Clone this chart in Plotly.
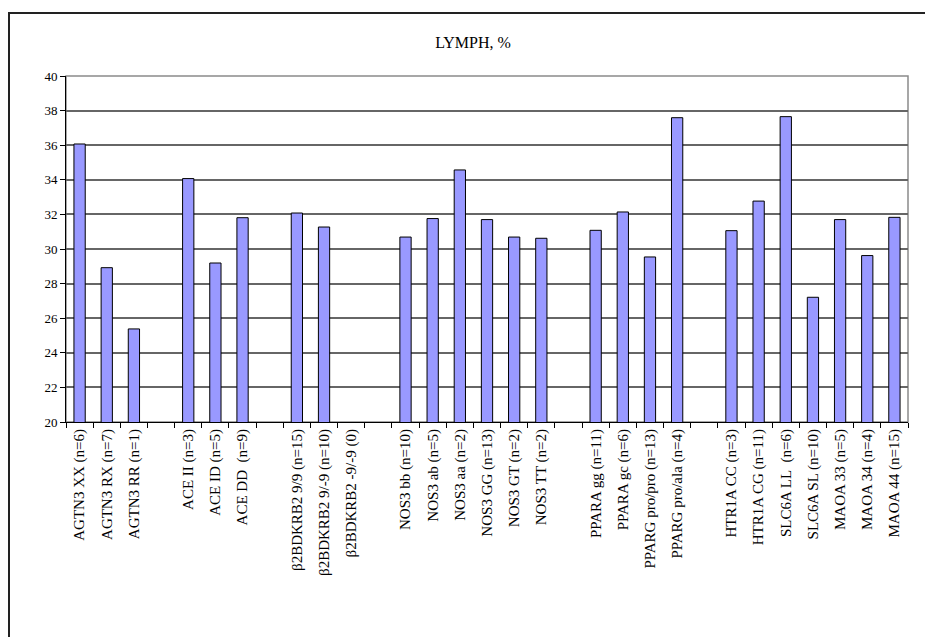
import plotly.graph_objects as go

# Genotype groups (blank entries separate the gene groups)
categories = [
    "AGTN3 XX (n=6)", "AGTN3 RX (n=7)", "AGTN3 RR (n=1)", " ",
    "ACE II (n=3)", "ACE ID (n=5)", "ACE DD\u00a0 (n=9)", "  ",
    "β2BDKRB2 9/9 (n=15)", "β2BDKRB2 9/-9 (n=10)", "β2BDKRB2 -9/-9 (0)", "   ",
    "NOS3 bb (n=10)", "NOS3 ab (n=5)", "NOS3 aa (n=2)", "NOS3 GG (n=13)",
    "NOS3 GT (n=2)", "NOS3 TT (n=2)", "    ",
    "PPARA gg (n=11)", "PPARA gc (n=6)", "PPARG pro/pro (n=13)", "PPARG pro/ala (n=4)", "     ",
    "HTR1A CC (n=3)", "HTR1A CG (n=11)", "SLC6A LL\u00a0 (n=6)", "SLC6A SL (n=10)",
    "MAOA 33 (n=5)", "MAOA 34 (n=4)", "MAOA 44 (n=15)",
]

# Mean lymphocyte share, %
lymph = [
    36.07, 28.92, 25.38, None,
    34.07, 29.19, 31.81, None,
    32.08, 31.27, 0, None,
    30.69, 31.76, 34.57, 31.70, 30.69, 30.62, None,
    31.08, 32.14, 29.54, 37.59, None,
    31.06, 32.77, 37.65, 27.21, 31.70, 29.62, 31.83,
]

y_ticks = [20, 22, 24, 26, 28, 30, 32, 34, 36, 38, 40]

W, H = 925, 637
ML, MR, MT, MB = 66, 17, 76, 215
pw = W - ML - MR
ph = H - MT - MB

def px_to_paper_x(px):
    return (px - ML) / pw

def px_to_paper_y(py):
    return (H - MB - py) / ph

serif = "Liberation Serif, Times New Roman, serif"

fig = go.Figure(
    go.Bar(
        x=categories,
        y=lymph,
        marker=dict(color="#9999FF", line=dict(color="black", width=1)),
        showlegend=False,
    )
)

fig.update_layout(
    width=W,
    height=H,
    margin=dict(l=ML, r=MR, t=MT, b=MB),
    paper_bgcolor="white",
    plot_bgcolor="white",
    bargap=0.585,
    font=dict(family=serif, size=13, color="black"),
    title=dict(
        text="LYMPH, %",
        x=px_to_paper_x(473),
        xref="paper",
        xanchor="center",
        y=1 - 42 / H,
        yref="container",
        yanchor="middle",
        font=dict(family=serif, size=16, color="black"),
    ),
    xaxis=dict(
        type="category",
        categoryorder="array",
        categoryarray=categories,
        tickmode="linear",
        tick0=0,
        dtick=1,
        tickson="boundaries",
        ticks="outside",
        ticklen=5,
        tickcolor="black",
        tickangle=-90,
        tickfont=dict(family=serif, size=15, color="black"),
        showline=True,
        linecolor="black",
        linewidth=1,
        showgrid=False,
        zeroline=False,
    ),
    yaxis=dict(
        range=[20, 40],
        tickvals=y_ticks,
        ticks="outside",
        ticklen=5,
        tickcolor="black",
        tickfont=dict(family=serif, size=13, color="black"),
        showline=True,
        linecolor="black",
        linewidth=1,
        showgrid=True,
        gridcolor="#666666",
        gridwidth=1.5,
        zeroline=False,
    ),
    shapes=[
        # plot-area frame
        dict(type="rect", xref="paper", yref="paper", x0=0, x1=1, y0=0, y1=1,
             line=dict(color="#8a8a8a", width=1.5), layer="below"),
        # chart-area frame
        dict(type="rect", xref="paper", yref="paper",
             x0=px_to_paper_x(9), x1=px_to_paper_x(960),
             y0=px_to_paper_y(700), y1=px_to_paper_y(13),
             line=dict(color="#222222", width=2), layer="above"),
    ],
)

fig.write_html("out.html")
